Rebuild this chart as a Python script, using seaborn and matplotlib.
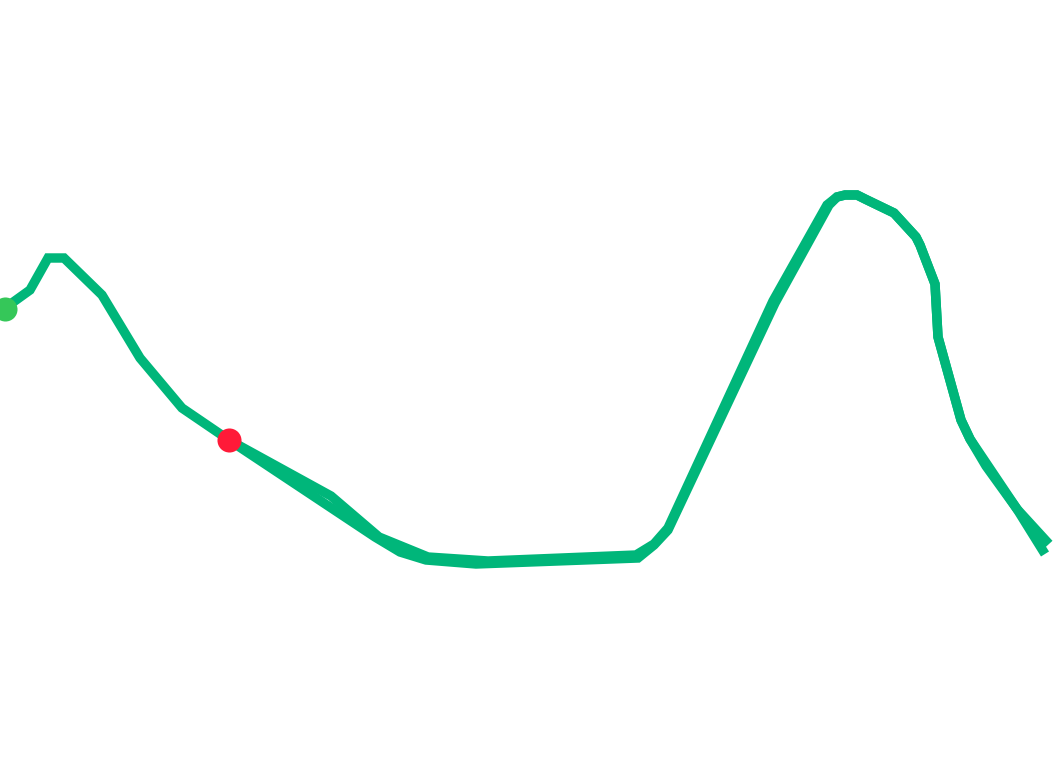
import seaborn as sns
import pandas as pd
import matplotlib.pyplot as plt

track_color = "#00b67a"
start_color = "#35c759"
end_color = "#ff1a38"

# outbound pass, from the green start point to the far right end
out_x = [5, 30, 48, 64, 102, 140, 182, 229, 331, 379, 428, 488, 636, 654, 668,
         773, 827, 837, 845, 857, 865, 894, 916, 920, 935, 938, 961, 970, 1017, 1049]
out_y = [308, 290, 258, 258, 295, 358, 408, 440, 496, 537, 557, 561, 555, 544, 528,
         301, 205, 197, 195, 195, 199, 213, 237, 245, 284, 337, 420, 439, 509, 544]

# return pass, from the far right end back to the red point
back_x = [1045, 1017, 986, 970, 961, 938, 935, 920, 916, 894, 865, 857, 845, 837, 829,
          775, 668, 654, 638, 476, 426, 400, 375, 229]
back_y = [554, 509, 466, 439, 420, 337, 284, 245, 237, 213, 199, 195, 195, 197, 205,
          303, 530, 545, 558, 564, 560, 552, 537, 440]

start_pt = (5, 309)
end_pt = (229, 440)

track = pd.concat([
    pd.DataFrame({"x": out_x, "y": out_y, "leg": "out"}),
    pd.DataFrame({"x": back_x, "y": back_y, "leg": "back"}),
])

fig = plt.figure(figsize=(10.53, 7.59), dpi=100)
ax = fig.add_axes([0, 0, 1, 1])

sns.lineplot(data=track, x="x", y="y", units="leg", estimator=None, sort=False,
             color=track_color, linewidth=6.8, ax=ax,
             solid_joinstyle="miter", solid_capstyle="butt")

ax.scatter([start_pt[0]], [start_pt[1]], s=300, color=start_color, zorder=5, linewidths=0)
ax.scatter([end_pt[0]], [end_pt[1]], s=300, color=end_color, zorder=5, linewidths=0)

ax.set_xlim(0, 1053)
ax.set_ylim(759, 0)
ax.axis("off")

fig.savefig("out.png", dpi=100, facecolor="white")
